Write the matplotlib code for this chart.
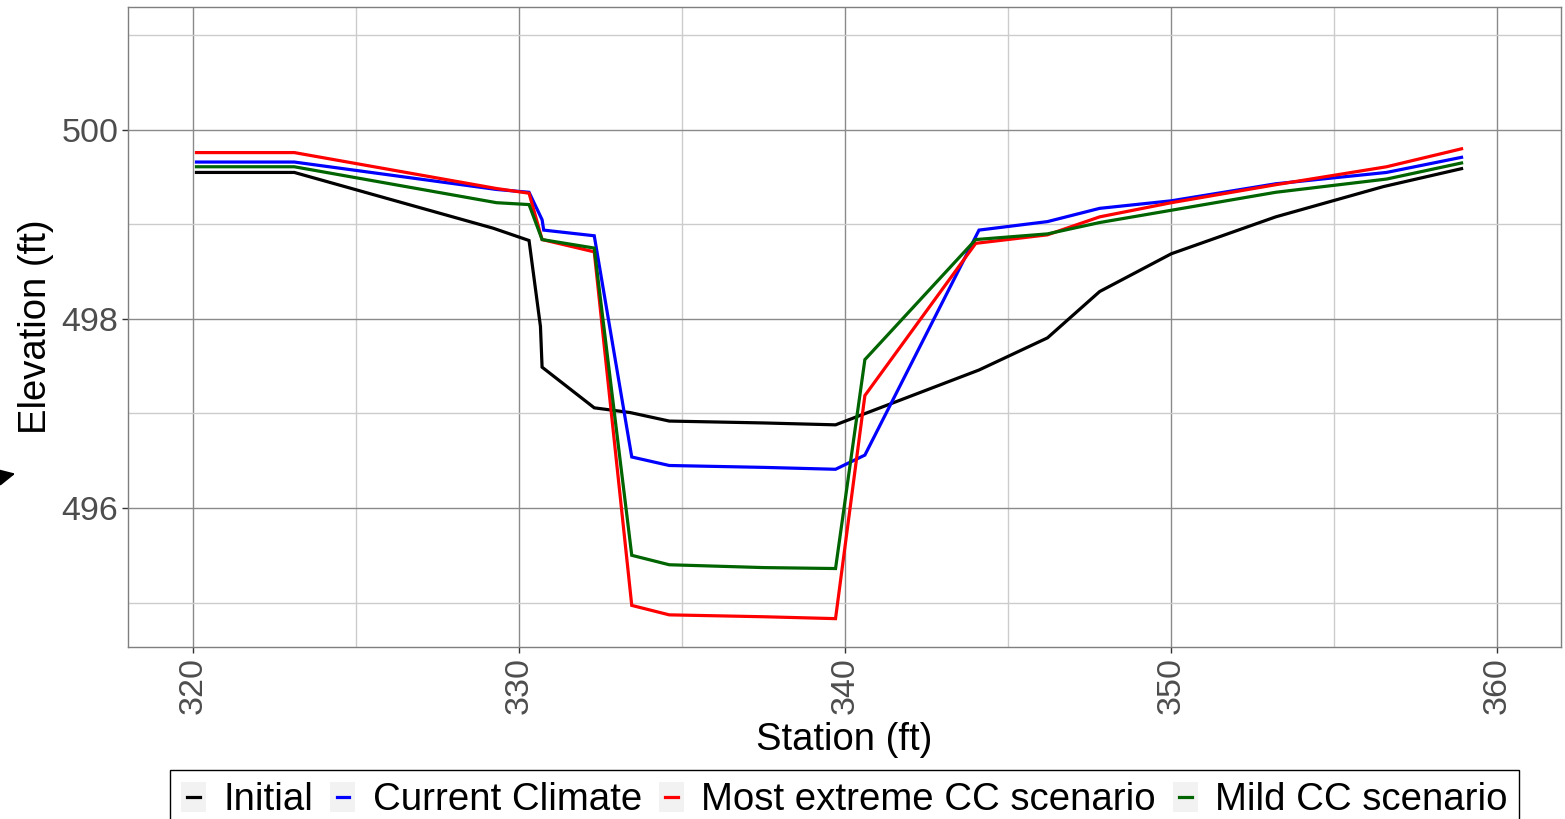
import matplotlib
matplotlib.use("Agg")
import matplotlib.pyplot as plt
from matplotlib.patches import Rectangle
from matplotlib.lines import Line2D
from matplotlib.ticker import MultipleLocator

plt.rcParams['font.family'] = ['Liberation Sans', 'DejaVu Sans']

# ---------------- data ----------------
x_initial = [320.1, 323.1, 329.2, 330.3, 330.65, 330.7, 332.3, 333.4, 334.6, 337.5, 339.7,
             344.1, 346.2, 347.8, 350.0, 353.2, 356.5, 358.9]
y_initial = [499.55, 499.55, 498.96, 498.83, 497.92, 497.49, 497.06, 497.01, 496.92, 496.90, 496.88,
             497.46, 497.80, 498.29, 498.69, 499.08, 499.40, 499.59]

x_current = [320.1, 323.1, 329.3, 330.3, 330.7, 330.75, 332.3, 333.45, 334.6, 337.5, 339.7, 340.6,
             344.1, 346.2, 347.8, 350.0, 353.2, 356.6, 358.9]
y_current = [499.66, 499.66, 499.37, 499.34, 499.05, 498.94, 498.88, 496.54, 496.45, 496.43, 496.41, 496.56,
             498.94, 499.03, 499.17, 499.25, 499.43, 499.55, 499.71]

x_extreme = [320.1, 323.1, 329.3, 330.3, 330.7, 332.3, 333.45, 334.6, 337.5, 339.7, 340.6,
             344.0, 346.2, 347.8, 350.0, 353.2, 356.6, 358.9]
y_extreme = [499.76, 499.76, 499.38, 499.33, 498.84, 498.71, 494.97, 494.87, 494.85, 494.83, 497.19,
             498.80, 498.89, 499.08, 499.23, 499.42, 499.61, 499.80]

x_mild = [320.1, 323.1, 329.3, 330.3, 330.7, 332.3, 333.45, 334.6, 337.5, 339.7, 340.6,
          344.0, 346.2, 347.8, 350.0, 353.2, 356.6, 358.9]
y_mild = [499.61, 499.61, 499.23, 499.21, 498.84, 498.75, 495.50, 495.40, 495.37, 495.36, 497.57,
          498.84, 498.90, 499.02, 499.15, 499.34, 499.48, 499.65]

series_labels = ["Initial", "Current Climate", "Most extreme CC scenario", "Mild CC scenario"]
series_colors = ["black", "#0000FF", "#FF0000", "#006400"]

x_ticks = [320, 330, 340, 350, 360]
y_ticks = [496, 498, 500]

# ---------------- figure ----------------
W, H = 1565, 819
fig = plt.figure(figsize=(W / 100, H / 100), dpi=100)
ax = fig.add_axes([128 / W, 1 - 647 / H, (1561 - 128) / W, (647 - 7) / H])

series = [(x_initial, y_initial), (x_current, y_current), (x_extreme, y_extreme), (x_mild, y_mild)]
handles = []
for (xs, ys), lab, col in zip(series, series_labels, series_colors):
    h, = ax.plot(xs, ys, color=col, lw=2.3, label=lab, solid_joinstyle='miter', zorder=3)
    handles.append(h)

ax.set_xlim(318.0, 361.95)
ax.set_ylim(494.53, 501.3)
ax.set_xticks(x_ticks)
ax.set_yticks(y_ticks)
ax.xaxis.set_minor_locator(MultipleLocator(5))
ax.yaxis.set_minor_locator(MultipleLocator(1))
ax.grid(which='major', color='#8a8a8a', lw=1.0, zorder=0)
ax.grid(which='minor', color='#cccccc', lw=1.0, zorder=0)
ax.set_axisbelow(True)
for s in ax.spines.values():
    s.set_color('#7f7f7f')
    s.set_linewidth(1.0)

tick_fs = 24.5
title_fs = 27.5
ax.tick_params(which='major', length=4, width=1, color='#333333', labelcolor='#4d4d4d',
               labelsize=tick_fs, pad=3)
ax.tick_params(which='minor', length=0)
plt.setp(ax.get_xticklabels(), rotation=90)

ax.set_xlabel("Station (ft)", fontsize=title_fs, color='black', labelpad=6)
ax.set_ylabel("Elevation (ft)", fontsize=title_fs, color='black', labelpad=5)


class KeyHandler:
    def legend_artist(self, legend, orig_handle, fontsize, handlebox):
        x0, y0 = -handlebox.xdescent, -handlebox.ydescent
        w, h = handlebox.width, handlebox.height
        bg = Rectangle((x0, y0), w, h, facecolor='#F2F2F2', edgecolor='none',
                       transform=handlebox.get_transform())
        ln = Line2D([x0 + 0.25 * w, x0 + 0.75 * w], [y0 + h / 2, y0 + h / 2],
                    color=orig_handle.get_color(), lw=2.3,
                    transform=handlebox.get_transform())
        handlebox.add_artist(bg)
        handlebox.add_artist(ln)
        return ln


leg = fig.legend(handles=handles, labels=series_labels, loc='upper center',
                 bbox_to_anchor=(844.5 / W, 1 - 770 / H), ncol=4, fontsize=27.6,
                 frameon=True, fancybox=False, edgecolor='black', framealpha=1,
                 handlelength=0.65, handleheight=0.85, handletextpad=0.45,
                 columnspacing=0.45, borderpad=0.3, borderaxespad=0.0,
                 handler_map={Line2D: KeyHandler()})
leg.get_frame().set_linewidth(1.0)

# small arrow fragment at the left edge
ax.annotate('', xy=(18, H - 473), xycoords='figure pixels',
            xytext=(-14, H - 480), textcoords='figure pixels',
            arrowprops=dict(arrowstyle='-|>', color='black', lw=1.5, mutation_scale=26),
            annotation_clip=False)

fig.savefig("out.png", dpi=100)
